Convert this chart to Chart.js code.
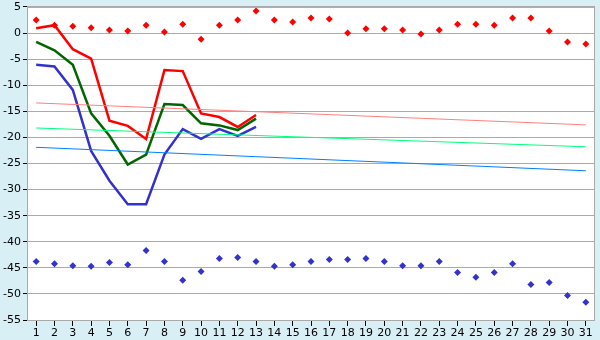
<!DOCTYPE html>
<html>
<head>
<meta charset="utf-8">
<script src="https://cdn.jsdelivr.net/npm/chart.js@4/dist/chart.umd.min.js"></script>
<style>
  html, body { margin: 0; padding: 0; background: #d9eff6; }
  #wrap { width: 600px; height: 340px; }
</style>
</head>
<body>
<div id="wrap"><canvas id="tempChart" width="600" height="340"></canvas></div>
<script>
var days = [];
for (var i = 1; i <= 31; i++) days.push(String(i));

// daily record max / min (dots)
var recMax = [2.5, 1.5, 1.3, 1.0, 0.6, 0.4, 1.5, 0.2, 1.7, -1.2, 1.5, 2.5, 4.2, 2.5, 2.1,
              2.9, 2.7, 0.0, 0.8, 0.8, 0.6, -0.2, 0.6, 1.7, 1.7, 1.5, 2.9, 2.9, 0.4, -1.7, -2.1];
var recMin = [-43.8, -44.2, -44.6, -44.7, -44.0, -44.4, -41.7, -43.8, -47.4, -45.7, -43.2, -43.0, -43.8, -44.7, -44.4,
              -43.8, -43.4, -43.4, -43.2, -43.8, -44.6, -44.6, -43.8, -45.9, -46.8, -45.9, -44.2, -48.2, -47.8, -50.3, -51.6];

// this month so far
var tMax = [0.9, 1.5, -3.1, -4.9, -16.8, -17.8, -20.3, -7.1, -7.3, -15.4, -16.1, -18.0, -15.7];
var tAvg = [-1.7, -3.3, -6.1, -15.4, -19.7, -25.2, -23.3, -13.6, -13.8, -17.3, -17.7, -18.6, -16.4];
var tMin = [-6.1, -6.4, -10.9, -22.6, -28.3, -32.8, -32.8, -23.3, -18.4, -20.3, -18.4, -19.7, -18.0];

// normals (start of month, end of month)
var normMax = [-13.4, -17.6];
var normAvg = [-18.2, -21.8];
var normMin = [-21.9, -26.4];

var yTicks = [5, 0, -5, -10, -15, -20, -25, -30, -35, -40, -45, -50, -55];

function trend(v) {
  return [{x: days[0], y: v[0]}, {x: days[days.length - 1], y: v[1]}];
}

var plotBg = {
  id: 'plotBg',
  beforeDraw: function(chart) {
    var a = chart.chartArea, c = chart.ctx;
    c.save();
    c.fillStyle = '#ffffff';
    c.fillRect(a.left, a.top, a.right - a.left, a.bottom - a.top);
    c.restore();
  },
  afterDatasetsDraw: function(chart) {
    var a = chart.chartArea, c = chart.ctx;
    c.save();
    c.strokeStyle = '#aaaaaa';
    c.lineWidth = 1;
    c.strokeRect(a.left + 0.5, a.top + 0.5, a.right - a.left - 1, a.bottom - a.top);
    c.restore();
  }
};

Chart.defaults.font.family = 'DejaVu Sans';
Chart.defaults.font.size = 11;
Chart.defaults.color = '#000';

var ctx = document.getElementById('tempChart').getContext('2d');
var chart = new Chart(ctx, {
  type: 'line',
  data: {
    labels: days,
    datasets: [
      {data: trend(normMax), borderColor: '#ff8080', borderWidth: 1, pointRadius: 0, fill: false},
      {data: trend(normAvg), borderColor: '#00ff80', borderWidth: 1, pointRadius: 0, fill: false},
      {data: trend(normMin), borderColor: '#0080ff', borderWidth: 1, pointRadius: 0, fill: false},
      {data: tMax, borderColor: '#ff0000', borderWidth: 2.5, pointRadius: 0, fill: false},
      {data: tAvg, borderColor: '#006600', borderWidth: 2.5, pointRadius: 0, fill: false},
      {data: tMin, borderColor: '#3333cc', borderWidth: 2.5, pointRadius: 0, fill: false},
      {data: recMax, showLine: false, pointStyle: 'rectRot', pointRadius: 3.5,
       backgroundColor: '#ff0000', borderColor: '#ff0000', borderWidth: 0},
      {data: recMin, showLine: false, pointStyle: 'rectRot', pointRadius: 3.5,
       backgroundColor: '#3333cc', borderColor: '#3333cc', borderWidth: 0}
    ]
  },
  options: {
    responsive: false,
    animation: false,
    devicePixelRatio: 1,
    layout: {padding: {top: 0, right: 5, left: 0, bottom: 0}},
    plugins: {legend: {display: false}, tooltip: {enabled: false}},
    scales: {
      x: {
        offset: true,
        grid: {drawOnChartArea: false, drawTicks: true, tickLength: 6, tickColor: '#000', offset: false},
        border: {display: false},
        ticks: {autoSkip: false, maxRotation: 0, padding: 1},
        afterFit: function(s) { s.height = 20; }
      },
      y: {
        min: -55, max: 5,
        afterBuildTicks: function(s) { s.ticks = yTicks.map(function(v) { return {value: v}; }); },
        grid: {color: '#aaaaaa', tickLength: 4, tickColor: '#000'},
        border: {display: false},
        ticks: {padding: 2, font: {lineHeight: 0.9}},
        afterFit: function(s) { s.width = 27; }
      }
    }
  },
  plugins: [plotBg]
});
</script>
</body>
</html>
